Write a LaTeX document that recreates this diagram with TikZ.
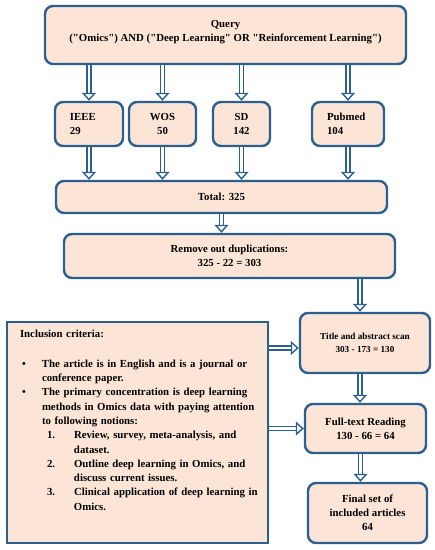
\documentclass[tikz,border=0pt]{standalone}
\usepackage{fontspec}
\setmainfont{Liberation Serif}[Ligatures=TeXOff]
\usetikzlibrary{arrows.meta}

\definecolor{boxblue}{RGB}{42,95,143}
\definecolor{boxfill}{RGB}{252,229,214}

\begin{document}
\begin{tikzpicture}[x=1pt, y=1pt,
    box/.style={draw=boxblue, line width=2.4pt, fill=boxfill, rounded corners=8pt,
        align=center, inner sep=2pt, font=\fontsize{10.8}{14}\selectfont\bfseries},
    flow/.style={draw=boxblue, line width=1.4pt, double=white, double distance=2.6pt,
        -{Triangle[open, fill=white, length=8pt, width=14pt, line width=1.4pt]}}]
    \useasboundingbox (0,0) rectangle (435,550);

    % query and the four databases
    \node [box, minimum width=361pt, minimum height=58pt] (query) at (225.5,515)
        {Query\\("Omics") AND ("Deep Learning" OR "Reinforcement Learning")\\[-6pt]\mbox{}};
    \node [box, minimum width=68pt, minimum height=44pt, text width=38pt, align=left] (ieee) at (89,426) {IEEE\\29};
    \node [box, minimum width=67pt, minimum height=44pt] (wos) at (162.5,426) {WOS\\50};
    \node [box, minimum width=57pt, minimum height=44pt] (sd) at (241.5,426) {SD\\142};
    \node [box, minimum width=72pt, minimum height=44pt, text width=42pt, align=left] (pubmed) at (348,426) {Pubmed\\104};

    \node [box, minimum width=331pt, minimum height=32pt] (total) at (221.5,353) {Total: 325};
    \node [box, minimum width=331pt, minimum height=44pt] (remove) at (229.5,294)
        {Remove out duplications:\\325 - 22 = 303};

    % screening column
    \node [box, minimum width=130pt, minimum height=60pt, font=\fontsize{9.2}{13.3}\selectfont\bfseries] (title) at (365,207)
        {Title and abstract scan\\303 - 173 = 130};
    \node [box, minimum width=121pt, minimum height=49pt] (full) at (365.5,121.5)
        {Full-text Reading\\130 - 66 = 64};
    \node [box, minimum width=119pt, minimum height=60pt] (final) at (367.5,37)
        {Final set of\\included articles\\64};

    % criteria
    \node [box, rounded corners=0pt, minimum width=261pt, minimum height=221pt, text width=235pt,
        align=left, inner xsep=13pt, font=\fontsize{10.8}{14.3}\selectfont\bfseries] (crit) at (137.5,117.5) {%
        Inclusion criteria:\\[15pt]
        \makebox[22pt][l]{\hspace{2pt}\textbullet}\mbox{The article is in English and is a journal or}\\
        \hspace*{22pt}conference paper.\\
        \makebox[22pt][l]{\hspace{2pt}\textbullet}\mbox{The primary concentration is deep learning}\\
        \hspace*{22pt}\mbox{methods in Omics data with paying attention}\\
        \hspace*{22pt}to following notions:\\
        \hspace*{27pt}\makebox[27pt][l]{1.}\mbox{Review, survey, meta-analysis, and}\\
        \hspace*{54pt}dataset.\\
        \hspace*{27pt}\makebox[27pt][l]{2.}\mbox{Outline deep learning in Omics, and}\\
        \hspace*{54pt}discuss current issues.\\
        \hspace*{27pt}\makebox[27pt][l]{3.}\mbox{Clinical application of deep learning in}\\
        \hspace*{54pt}Omics.\par\vspace{10pt}\null};

    % connectors
    \foreach \src in {ieee,wos,sd,pubmed} {
        \draw [flow] (query.south -| \src) -- (\src.north);
        \draw [flow] (\src.south) -- (\src.south |- total.north);
    }
    \draw [flow] (total.south) -- (total.south |- remove.north);
    \draw [flow] ([xshift=-5pt]title.north |- remove.south) -- ([xshift=-5pt]title.north);
    \draw [flow] ([xshift=-5pt]title.south) -- ([xshift=-5pt]title.south |- full.north);
    \draw [flow] ([xshift=-5pt]full.south) -- ([xshift=-5pt]full.south |- final.north);
    \draw [flow] ([yshift=-5pt]crit.east |- title.west) -- ([yshift=-5pt]title.west);
    \draw [flow] (crit.east |- full.west) -- (full.west);
\end{tikzpicture}
\end{document}
